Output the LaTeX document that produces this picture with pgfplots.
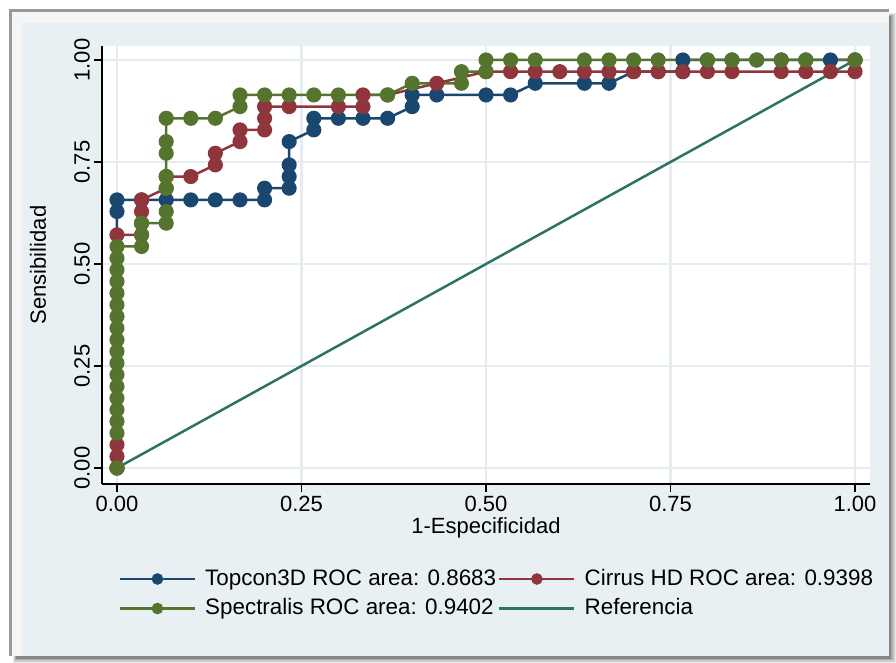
\documentclass[border=0pt]{standalone}
\usepackage{fontspec}
\setmainfont{Liberation Sans}
\usepackage{pgfplots}
\pgfplotsset{compat=1.18}
\definecolor{cblue}{RGB}{26,71,111}
\definecolor{cred}{RGB}{144,53,59}
\definecolor{cgreen}{RGB}{85,117,47}
\definecolor{cteal}{RGB}{45,115,100}
\definecolor{bgc}{RGB}{233,240,243}
\definecolor{gridc}{RGB}{230,237,241}
\begin{document}
\fontsize{22}{26}\selectfont
\begin{tikzpicture}[x=1pt,y=1pt]
\useasboundingbox (0,0) rectangle (896,663);
\fill[white] (0,0) rectangle (896,663);
% drop shadow
\fill[black!8] (13,0) rectangle (896,650);
\fill[black!20] (14,1) rectangle (894.5,649);
\fill[black!33] (15,2.5) rectangle (893,648);
\fill[black!48] (16,4) rectangle (891,647);
% frame
\fill[black!40] (9,7) rectangle (889,654);
\fill[black!4] (12,7) rectangle (889,651);
\fill[bgc] (22,7) rectangle (889,640);
\begin{axis}[
  at={(102pt,179pt)}, anchor=south west,
  width=768pt, height=438pt, scale only axis,
  xmin=-0.0203, xmax=1.0203, ymin=-0.0392, ymax=1.0343,
  axis lines=left,
  axis line style={-, black, line width=1.8pt},
  axis background/.style={fill=white},
  xtick={0,0.25,0.5,0.75,1}, ytick={0,0.25,0.5,0.75,1},
  tick align=outside, major tick length=8pt,
  tick style={black, line width=1.5pt},
  grid=major, grid style={gridc, line width=2.5pt},
  ticklabel style={font=\fontsize{22}{26}\selectfont},
  /pgf/number format/.cd, fixed, fixed zerofill, precision=2, assume math mode=true,
  /pgfplots/.cd,
  yticklabel style={rotate=90, anchor=south, inner sep=4pt},
  xticklabel style={inner sep=4pt},
  xlabel={1-Especificidad}, ylabel={Sensibilidad},
  label style={font=\fontsize{22}{26}\selectfont},
  xlabel style={at={(axis description cs:0.5,-0.1005)}, anchor=center},
  ylabel style={at={(axis description cs:-0.0833,0.5)}, anchor=center, rotate=0},
  legend style={draw=none, fill=none, at={(0.0176,-0.185)}, anchor=north west,
    font=\fontsize{22.4}{26}\selectfont, row sep=6pt,
    /tikz/every even column/.append style={column sep=0pt}},
  legend columns=2, legend cell align=left,
  legend image code/.code={\draw[mark repeat=2,mark phase=2,#1] plot coordinates {(0pt,0pt) (37.5pt,0pt) (75pt,0pt)}; \path (82pt,0pt);},
  legend image post style={mark size=4.5pt},
  every axis plot/.append style={line width=2.5pt, mark size=6.3pt},
  clip=false,
]
\addplot[cblue, mark=*, mark options={fill=cblue, draw=cblue}] coordinates {
(0,0) (0,0.6286) (0,0.6571) (0.0333,0.6571) (0.0667,0.6571) (0.1,0.6571) (0.1333,0.6571) (0.1667,0.6571) (0.2,0.6571) (0.2,0.6857) (0.2333,0.6857) (0.2333,0.7143) (0.2333,0.7429) (0.2333,0.8) (0.2667,0.8286) (0.2667,0.8571) (0.3,0.8571) (0.3333,0.8571) (0.3667,0.8571) (0.4,0.8857) (0.4,0.9143) (0.4333,0.9143) (0.5,0.9143) (0.5333,0.9143) (0.5667,0.9429) (0.6333,0.9429) (0.6667,0.9429) (0.7,0.9714) (0.7333,0.9714) (0.7667,0.9714) (0.7667,1) (0.8,1) (0.8333,1) (0.8667,1) (0.9,1) (0.9333,1) (0.9667,1) (1,1)
};
\addlegendentry{Topcon3D ROC area: 0.8683}
\addplot[cred, mark=*, mark options={fill=cred, draw=cred}] coordinates {
(0,0) (0,0.0286) (0,0.0571) (0,0.5714) (0.0333,0.5714) (0.0333,0.6) (0.0333,0.6286) (0.0333,0.6571) (0.0667,0.6857) (0.0667,0.7143) (0.1,0.7143) (0.1333,0.7429) (0.1333,0.7714) (0.1667,0.8) (0.1667,0.8286) (0.2,0.8286) (0.2,0.8571) (0.2,0.8857) (0.2333,0.8857) (0.3,0.8857) (0.3333,0.8857) (0.3333,0.9143) (0.3667,0.9143) (0.4333,0.9429) (0.5,0.9714) (0.5333,0.9714) (0.5667,0.9714) (0.6,0.9714) (0.6333,0.9714) (0.6667,0.9714) (0.7,0.9714) (0.7333,0.9714) (0.7667,0.9714) (0.8,0.9714) (0.8333,0.9714) (0.9,0.9714) (0.9333,0.9714) (0.9667,0.9714) (1,0.9714) (1,1)
};
\addlegendentry{Cirrus HD ROC area: 0.9398}
\addplot[cgreen, mark=*, mark options={fill=cgreen, draw=cgreen}] coordinates {
(0,0) (0,0.0857) (0,0.1143) (0,0.1429) (0,0.1714) (0,0.2) (0,0.2286) (0,0.2571) (0,0.2857) (0,0.3143) (0,0.3429) (0,0.3714) (0,0.4) (0,0.4286) (0,0.4571) (0,0.4857) (0,0.5143) (0,0.5429) (0.0333,0.5429) (0.0333,0.5714) (0.0333,0.6) (0.0667,0.6) (0.0667,0.6286) (0.0667,0.6857) (0.0667,0.7143) (0.0667,0.7714) (0.0667,0.8) (0.0667,0.8571) (0.1,0.8571) (0.1333,0.8571) (0.1667,0.8857) (0.1667,0.9143) (0.2,0.9143) (0.2333,0.9143) (0.2667,0.9143) (0.3,0.9143) (0.3667,0.9143) (0.4,0.9429) (0.4667,0.9429) (0.4667,0.9714) (0.5,0.9714) (0.5,1) (0.5333,1) (0.5667,1) (0.6333,1) (0.6667,1) (0.7,1) (0.7333,1) (0.8,1) (0.8333,1) (0.8667,1) (0.9,1) (0.9333,1) (1,1)
};
\addlegendentry{Spectralis ROC area: 0.9402}
\addplot[cteal, mark=none] coordinates {(0,0) (1,1)};
\addlegendentry{Referencia}
\end{axis}
\end{tikzpicture}
\end{document}
